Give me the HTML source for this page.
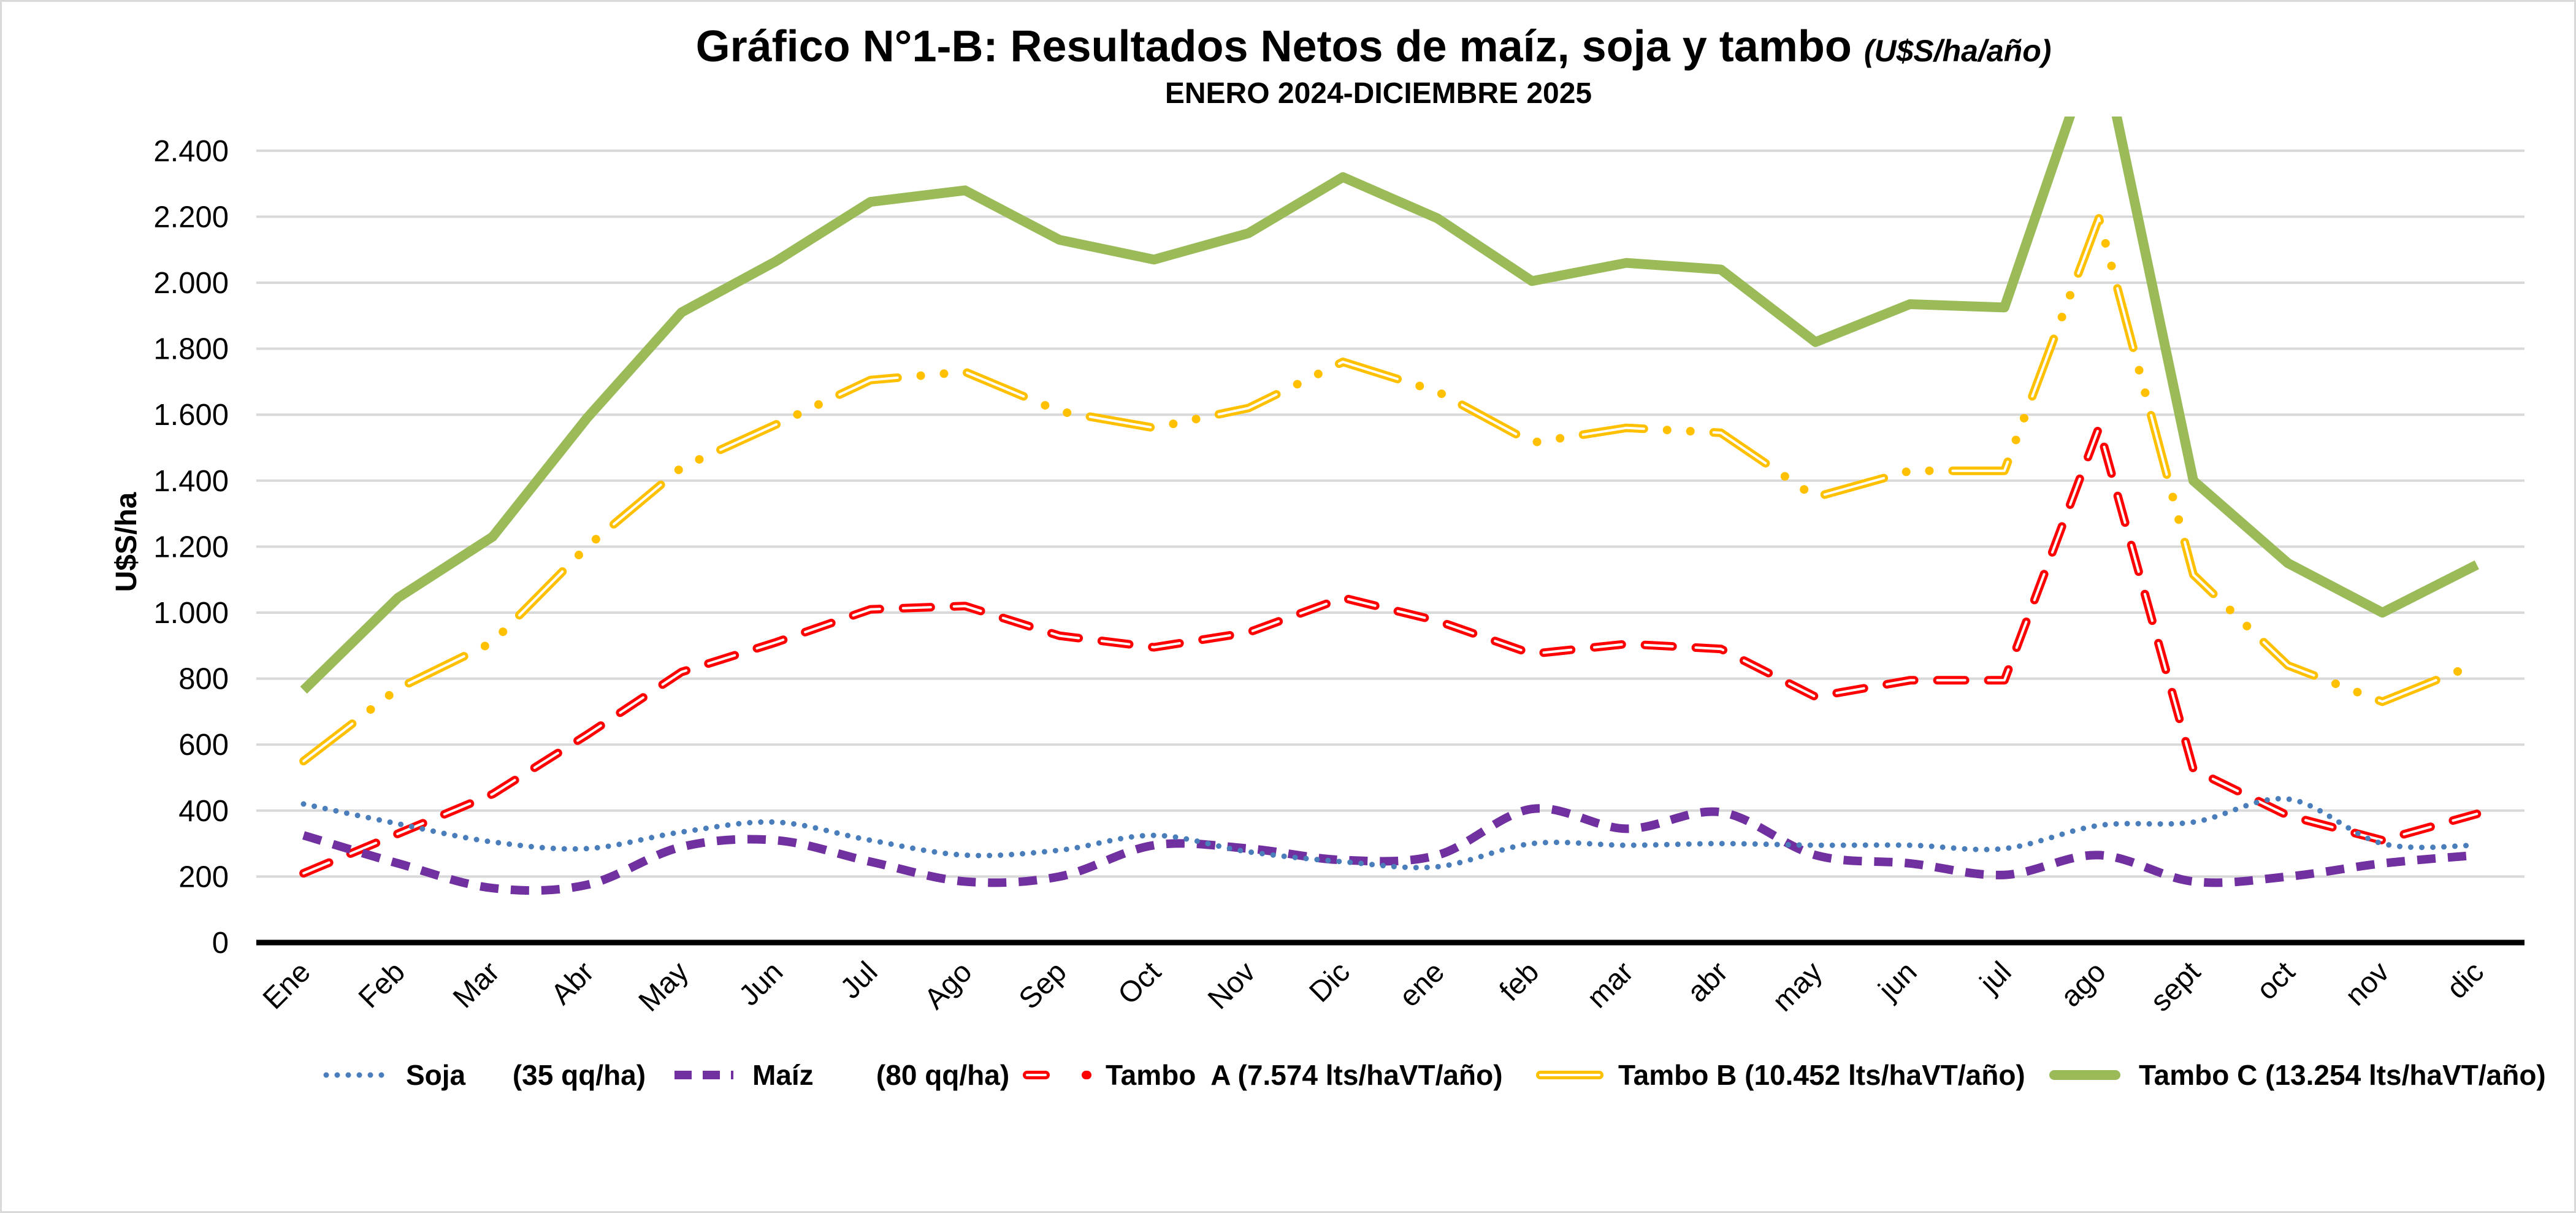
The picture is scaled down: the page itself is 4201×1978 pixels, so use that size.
<!DOCTYPE html>
<html><head><meta charset="utf-8"><style>
html,body{margin:0;padding:0;background:#fff}
svg{display:block;font-family:"Liberation Sans",Arial,sans-serif}
</style></head><body>
<svg id="s" width="4201" height="1978" viewBox="0 0 4201 1978" xmlns="http://www.w3.org/2000/svg">
<rect x="1.5" y="1.5" width="4198" height="1975" fill="#fff" stroke="#d9d9d9" stroke-width="3"/>
<text x="2240" y="100" text-anchor="middle" font-size="72" font-weight="bold">Gráfico N°1-B: Resultados Netos de maíz, soja y tambo <tspan font-size="50" font-style="italic">(U$S/ha/año)</tspan></text>
<text x="2248" y="168" text-anchor="middle" font-size="48" font-weight="bold">ENERO 2024-DICIEMBRE 2025</text>
<g id="grid" stroke="#d9d9d9" stroke-width="4"></g>
<g id="ylab" font-size="49" text-anchor="end"></g>
<text transform="translate(222,884) rotate(-90)" text-anchor="middle" font-size="48" font-weight="bold">U$S/ha</text>
<defs><clipPath id="cp"><rect x="400" y="190" width="3730" height="1400"/></clipPath></defs>
<g id="series" clip-path="url(#cp)" fill="none" stroke-linejoin="round"></g>
<line x1="418" y1="1537" x2="4117" y2="1537" stroke="#000" stroke-width="9"/>
<g id="xlab" font-size="48" text-anchor="end"></g>
<g font-size="46" font-weight="bold">
<line x1="532" y1="1753" x2="632" y2="1753" stroke="#4a7ebb" stroke-width="9" stroke-linecap="round" stroke-dasharray="0 18"/>
<text x="662" y="1769" xml:space="preserve">Soja      (35 qq/ha)</text>
<line x1="1100" y1="1753" x2="1196" y2="1753" stroke="#7030a0" stroke-width="14" stroke-dasharray="28 18"/>
<text x="1227" y="1769" xml:space="preserve">Maíz        (80 qq/ha)</text>
<line x1="1675" y1="1753" x2="1705" y2="1753" stroke="#ff0000" stroke-width="14" stroke-linecap="round"/>
<line x1="1675" y1="1753" x2="1705" y2="1753" stroke="#fff" stroke-width="4" stroke-linecap="round"/>
<line x1="1771" y1="1753" x2="1773" y2="1753" stroke="#ff0000" stroke-width="14" stroke-linecap="round"/>
<text x="1803" y="1769" xml:space="preserve">Tambo  A (7.574 lts/haVT/año)</text>
<line x1="2512" y1="1753" x2="2608" y2="1753" stroke="#ffc000" stroke-width="14" stroke-linecap="round"/>
<line x1="2512" y1="1753" x2="2608" y2="1753" stroke="#fff" stroke-width="4" stroke-linecap="round"/>
<text x="2639" y="1769">Tambo B (10.452 lts/haVT/año)</text>
<line x1="3350" y1="1753" x2="3450" y2="1753" stroke="#9bbb59" stroke-width="16" stroke-linecap="round"/>
<text x="3488" y="1769">Tambo C (13.254 lts/haVT/año)</text>
</g>
</svg>
<script>
(function(){
var NS="http://www.w3.org/2000/svg";
function el(p,n,a,t){var e=document.createElementNS(NS,n);for(var k in a)e.setAttribute(k,a[k]);if(t!=null)e.textContent=t;p.appendChild(e);return e;}
var y0=1537,per=107.6/200,L=418,W=154.1;
function Y(v){return y0-v*per;}function X(i){return L+W*(i+0.5);}
var grid=document.getElementById('grid'),yl=document.getElementById('ylab');
for(var v=0;v<=2400;v+=200){
 if(v>0)el(grid,'line',{x1:L,x2:4117,y1:Y(v),y2:Y(v)});
 var s=v>=1000?(Math.floor(v/1000)+'.'+String(v%1000).padStart(3,'0')):String(v);
 el(yl,'text',{x:373,y:Y(v)+17},s);
}
var months=["Ene","Feb","Mar","Abr","May","Jun","Jul","Ago","Sep","Oct","Nov","Dic","ene","feb","mar","abr","may","jun","jul","ago","sept","oct","nov","dic"];
var xl=document.getElementById('xlab');
months.forEach(function(m,i){el(xl,'text',{transform:'translate('+(X(i)+14)+',1588) rotate(-45)'},m);});
var soja=[420,360,305,285,335,365,310,265,280,325,275,245,230,300,295,300,295,295,285,355,365,435,300,295];
var maiz=[325,240,165,175,290,310,245,185,200,295,285,250,265,405,345,395,265,240,205,265,185,200,240,265];
var ta=[210,330,450,630,820,910,1010,1020,930,895,940,1045,975,875,905,890,745,795,795,1560,525,385,310,390];
var tb=[550,770,910,1200,1440,1570,1705,1730,1610,1560,1620,1760,1670,1515,1560,1545,1350,1430,1430,2195,1115,840,730,845];
var tc=[765,1045,1230,1590,1910,2065,2245,2280,2130,2070,2150,2320,2195,2005,2060,2040,1820,1935,1925,2760,1400,1150,1000,1145];
function straight(d){return d.map(function(v,i){return (i?'L':'M')+X(i).toFixed(1)+' '+Y(v).toFixed(1);}).join(' ');}
function smooth(d){var p=d.map(function(v,i){return [X(i),Y(v)];});var s='M'+p[0][0]+' '+p[0][1];
 for(var i=0;i<p.length-1;i++){var a=p[i-1]||p[i],b=p[i],c=p[i+1],e=p[i+2]||c;
  var c1=[b[0]+(c[0]-a[0])/6,b[1]+(c[1]-a[1])/6],c2=[c[0]-(e[0]-b[0])/6,c[1]-(e[1]-b[1])/6];
  s+=' C'+c1[0].toFixed(1)+' '+c1[1].toFixed(1)+' '+c2[0].toFixed(1)+' '+c2[1].toFixed(1)+' '+c[0].toFixed(1)+' '+c[1].toFixed(1);}
 return s;}
var g=document.getElementById('series');
el(g,'path',{d:straight(tc),stroke:'#9bbb59','stroke-width':16});
var pb=straight(tb);
el(g,'path',{d:pb,stroke:'#ffc000','stroke-width':14,'stroke-linecap':'round','stroke-dasharray':'100 38 0 38 0 38'});
el(g,'path',{d:pb,stroke:'#fff','stroke-width':4,'stroke-linecap':'round','stroke-dasharray':'100 114'});
var pa=straight(ta);
el(g,'path',{d:pa,stroke:'#ff0000','stroke-width':14,'stroke-linecap':'round','stroke-dasharray':'45 38'});
el(g,'path',{d:pa,stroke:'#fff','stroke-width':4,'stroke-linecap':'round','stroke-dasharray':'45 38'});
el(g,'path',{d:smooth(maiz),stroke:'#7030a0','stroke-width':14,'stroke-dasharray':'30 20'});
el(g,'path',{d:smooth(soja),stroke:'#4a7ebb','stroke-width':9,'stroke-linecap':'round','stroke-dasharray':'0 18'});
})();
</script>
</body></html>
